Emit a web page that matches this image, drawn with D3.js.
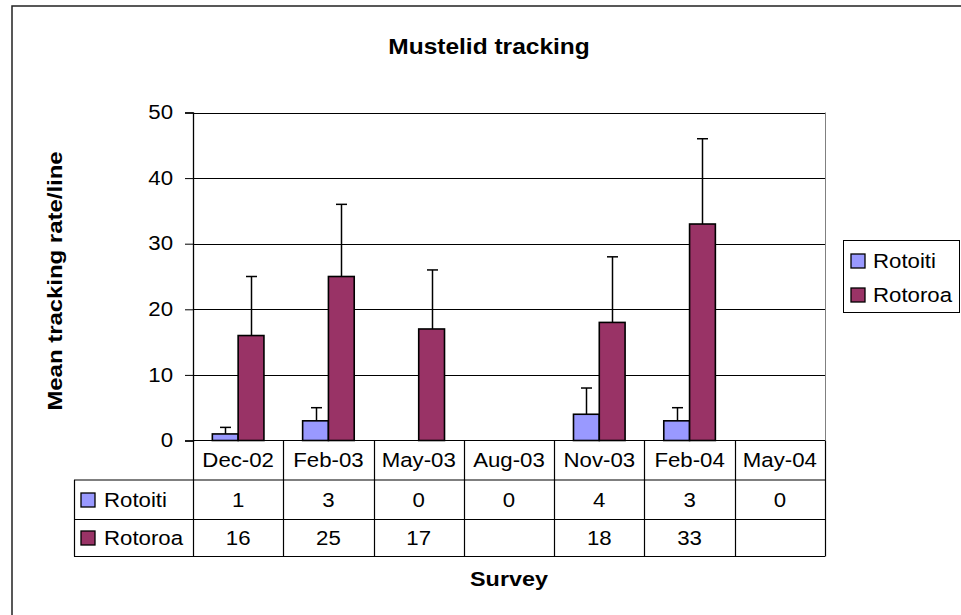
<!DOCTYPE html>
<html>
<head>
<meta charset="utf-8">
<script src="https://cdn.jsdelivr.net/npm/d3@7"></script>
<style>
  body { margin: 0; background: #fff; }
</style>
</head>
<body>
<div id="box"></div>
<script>
// data
const categories = ['Dec-02', 'Feb-03', 'May-03', 'Aug-03', 'Nov-03', 'Feb-04', 'May-04']
const seriesNames = ['Rotoiti', 'Rotoroa']
const rotoiti = [1, 3, 0, 0, 4, 3, 0]
const rotoroa = [16, 25, 17, null, 18, 33, null]
// plus error amounts
const rotoitiErr = [1, 2, 0, 0, 4, 2, 0]
const rotoroaErr = [9, 11, 9, null, 10, 13, null]
const yTicks = [0, 10, 20, 30, 40, 50]

// canvas
const width = 961
const height = 615
const plot = {left: 193, right: 825, top: 112.5, bottom: 440.5}
const font = '"Liberation Sans", Arial, sans-serif'
const sx = 1.14   // text in the original is a bit wider than Arial

const x = d3.scaleBand().domain(categories).range([plot.left, plot.right])
const xs = d3.scaleBand().domain(seriesNames).range([0, x.bandwidth()]).paddingOuter(0.75)
const y = d3.scaleLinear().domain([0, 50]).range([plot.bottom, plot.top])
const color = d3.scaleOrdinal().domain(seriesNames).range(['#9999FF', '#993366'])

const series = [
  {name: 'Rotoiti', values: rotoiti, err: rotoitiErr},
  {name: 'Rotoroa', values: rotoroa, err: rotoroaErr}
]

const svg = d3.select('#box').append('svg')
  .attr('width', width)
  .attr('height', height)
  .style('font-family', font)

// text helper: stretched horizontally around its anchor
function addText(g, tx, ty, str, opt = {}) {
  const rot = opt.rotate ? ` rotate(${opt.rotate})` : ''
  return g.append('text')
    .attr('transform', `translate(${tx},${ty})${rot} scale(${sx},1)`)
    .attr('text-anchor', opt.anchor || 'middle')
    .attr('font-size', opt.size || 19.5)
    .attr('font-weight', opt.bold ? 'bold' : 'normal')
    .attr('fill', '#000')
    .text(str)
}

// chart area border (runs off the page right/bottom)
svg.append('rect')
  .attr('x', 12).attr('y', 6)
  .attr('width', 1000).attr('height', 700)
  .attr('fill', 'none').attr('stroke', '#222').attr('stroke-width', 1.5)

drawGrid()
drawBars()
drawErrors()
drawAxis()
drawTable()
drawLegend()

addText(svg, 489, 54, 'Mustelid tracking', {bold: true, size: 21.5})
addText(svg, 62, 281, 'Mean tracking rate/line', {bold: true, size: 21, rotate: -90})
addText(svg, (plot.left + plot.right) / 2, 586, 'Survey', {bold: true, size: 20.5})

function drawGrid() {
  const g = svg.append('g')
  g.selectAll('line').data(yTicks.filter(d => d > 0))
    .join('line')
    .attr('x1', plot.left).attr('x2', plot.right)
    .attr('y1', d => Math.round(y(d)) + 0.5).attr('y2', d => Math.round(y(d)) + 0.5)
    .attr('stroke', '#000')
  // plot border right side
  g.append('line')
    .attr('x1', plot.right + 0.5).attr('x2', plot.right + 0.5)
    .attr('y1', y(50)).attr('y2', y(0))
    .attr('stroke', '#808080')
}

function drawBars() {
  const g = svg.append('g')
  const groups = g.selectAll('g').data(series).join('g')
    .attr('fill', d => color(d.name))
  groups.selectAll('rect')
    .data(d => d.values.map((v, i) => ({name: d.name, cat: categories[i], v})).filter(p => p.v !== null))
    .join('rect')
    .attr('x', p => x(p.cat) + xs(p.name))
    .attr('y', p => y(p.v))
    .attr('width', xs.bandwidth())
    .attr('height', p => y(0) - y(p.v))
    .attr('stroke', '#000')
    .attr('stroke-width', 1.6)
}

function drawErrors() {
  const g = svg.append('g').attr('stroke', '#000').attr('stroke-width', 1.5)
  const pts = []
  series.forEach(s => s.values.forEach((v, i) => {
    if (v !== null && s.err[i]) pts.push({name: s.name, cat: categories[i], v, e: s.err[i]})
  }))
  const cx = p => Math.round(x(p.cat) + xs(p.name) + xs.bandwidth() / 2) + 0.5
  g.selectAll('.stem').data(pts).join('line').attr('class', 'stem')
    .attr('x1', cx).attr('x2', cx)
    .attr('y1', p => y(p.v)).attr('y2', p => y(p.v + p.e))
  g.selectAll('.cap').data(pts).join('line').attr('class', 'cap')
    .attr('x1', p => cx(p) - 5.5).attr('x2', p => cx(p) + 5.5)
    .attr('y1', p => y(p.v + p.e)).attr('y2', p => y(p.v + p.e))
}

function drawAxis() {
  const axis = svg.append('g')
    .attr('transform', `translate(${plot.left},0)`)
    .call(d3.axisLeft(y).tickValues(yTicks).tickSize(8).tickPadding(12))
  axis.select('.domain').attr('stroke', '#000').attr('stroke-width', 1.3)
  axis.selectAll('.tick line').attr('stroke', '#000')
  axis.selectAll('.tick text')
    .attr('font-family', font)
    .attr('font-size', 19.5)
    .attr('fill', '#000')
    .attr('x', -20 / sx)
    .attr('transform', `scale(${sx},1)`)
}

function drawTable() {
  const rows = [plot.bottom, 480, 519.5, 556.5]
  const left = 74
  const g = svg.append('g').attr('stroke', '#000').attr('stroke-width', 1.2)
  // horizontal rules
  g.append('line').attr('x1', plot.left).attr('x2', plot.right).attr('y1', rows[0]).attr('y2', rows[0])
  rows.slice(1).forEach(r => {
    g.append('line').attr('x1', left).attr('x2', plot.right).attr('y1', r).attr('y2', r)
  })
  // vertical rules
  const cuts = categories.map(c => x(c)).concat([plot.right])
  g.selectAll('.v').data(cuts).join('line').attr('class', 'v')
    .attr('x1', d => Math.round(d) + 0.5).attr('x2', d => Math.round(d) + 0.5)
    .attr('y1', rows[0]).attr('y2', rows[3])
  g.append('line').attr('x1', left + 0.5).attr('x2', left + 0.5).attr('y1', rows[1]).attr('y2', rows[3])

  const t = svg.append('g')
  categories.forEach((c, i) => {
    const cx = x(c) + x.bandwidth() / 2
    addText(t, cx, 467, c)
    addText(t, cx, 507, rotoiti[i])
    if (rotoroa[i] !== null) addText(t, cx, 545, rotoroa[i])
  })
  series.forEach((s, k) => {
    const base = k === 0 ? 507 : 545
    t.append('rect')
      .attr('x', 81).attr('y', base - 14)
      .attr('width', 14).attr('height', 14)
      .attr('fill', color(s.name)).attr('stroke', '#000').attr('stroke-width', 1.3)
    addText(t, 104, base, s.name, {anchor: 'start'})
  })
}

function drawLegend() {
  const g = svg.append('g')
  g.append('rect')
    .attr('x', 843.5).attr('y', 240.5)
    .attr('width', 116).attr('height', 72)
    .attr('fill', '#fff').attr('stroke', '#000')
  const items = g.selectAll('g').data(seriesNames).join('g')
    .attr('transform', (d, i) => `translate(0,${i === 0 ? 268 : 302})`)
  items.append('rect')
    .attr('x', 851).attr('y', -14)
    .attr('width', 14).attr('height', 14)
    .attr('fill', d => color(d)).attr('stroke', '#000').attr('stroke-width', 1.3)
  items.each(function(d) { addText(d3.select(this), 873, 0, d, {anchor: 'start'}) })
}
</script>
</body>
</html>
